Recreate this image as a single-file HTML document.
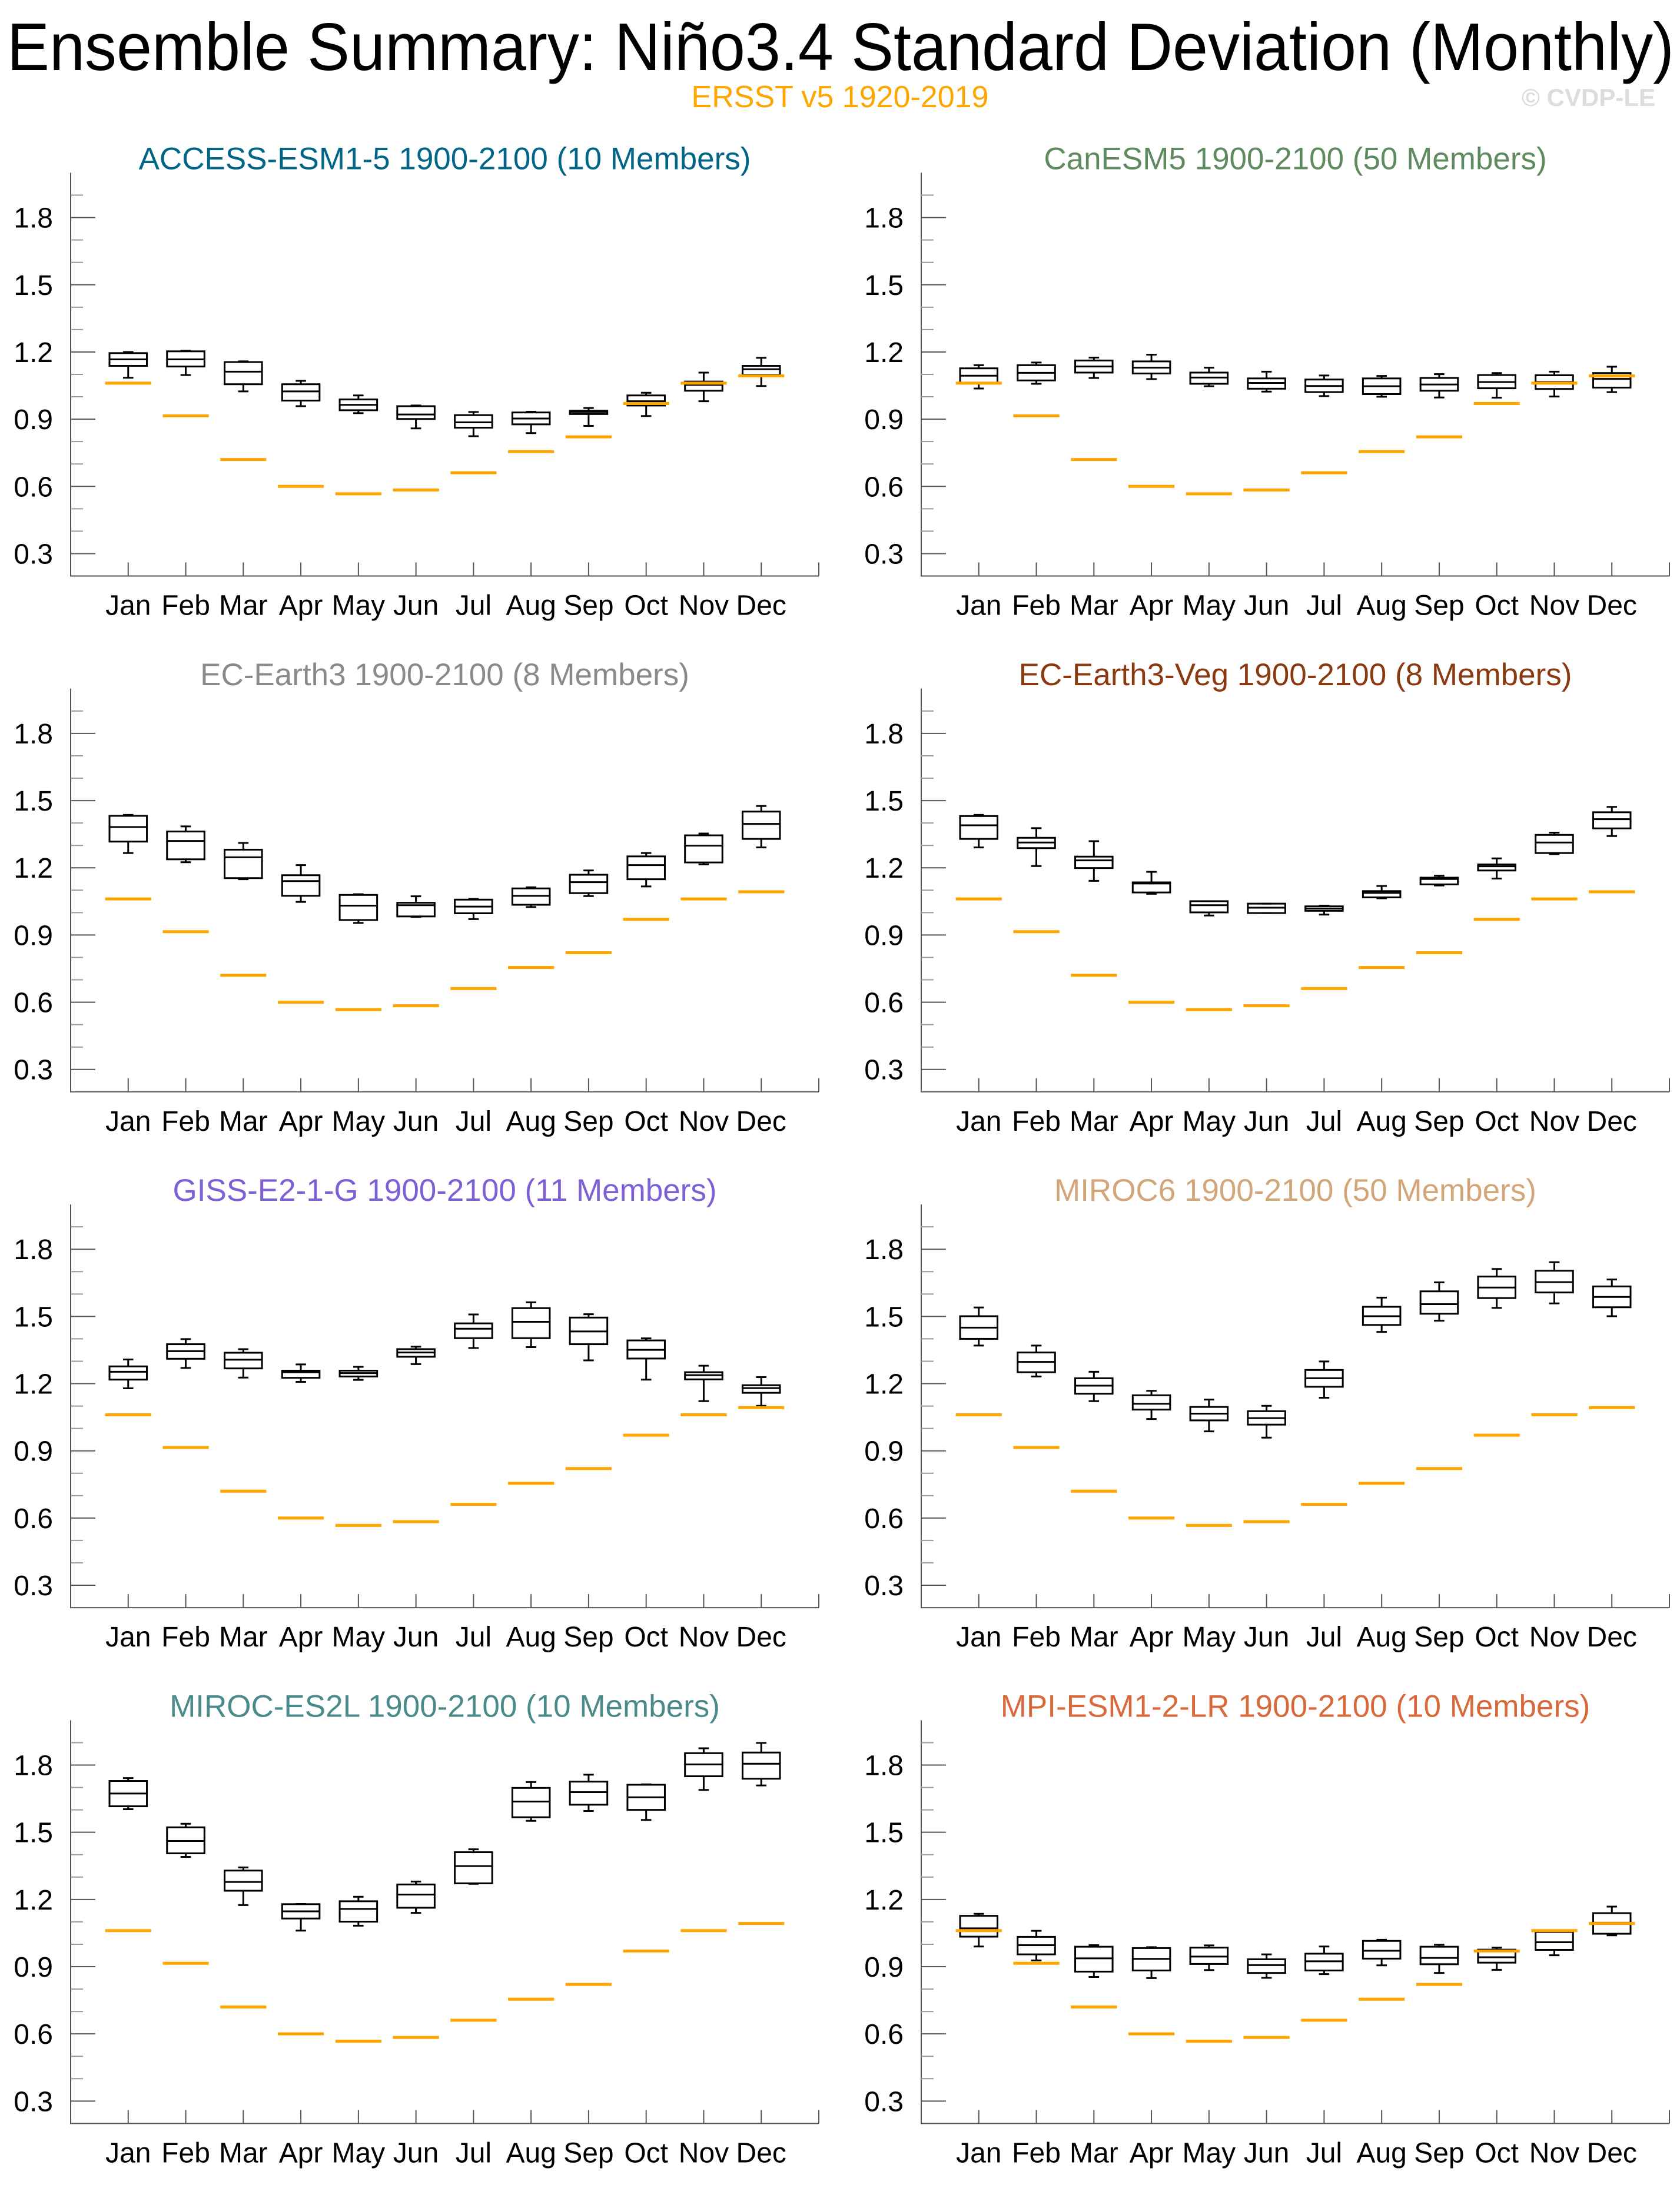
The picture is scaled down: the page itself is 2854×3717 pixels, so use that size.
<!DOCTYPE html>
<html><head><meta charset="utf-8"><style>
html,body{margin:0;padding:0;background:#fff;}
svg{display:block;font-family:"Liberation Sans",Arial,sans-serif;}
</style></head><body>
<svg id="fig" width="2854" height="3717" viewBox="0 0 2854 3717" xmlns="http://www.w3.org/2000/svg">
<text x="12" y="119" font-size="114" textLength="2832" lengthAdjust="spacingAndGlyphs" fill="#000">Ensemble Summary: Niño3.4 Standard Deviation (Monthly)</text>
<text x="1427" y="182" font-size="52" text-anchor="middle" fill="#FFA500">ERSST v5 1920-2019</text>
<text x="2812" y="180" font-size="42" font-weight="bold" text-anchor="end" fill="#dcdcdc">© CVDP-LE</text>
<g id="panels"></g>
</svg>
<script>
const months = ["Jan","Feb","Mar","Apr","May","Jun","Jul","Aug","Sep","Oct","Nov","Dec"];
const yTickValues = [0.3,0.6,0.9,1.2,1.5,1.8];
const yTickLabels = ["0.3","0.6","0.9","1.2","1.5","1.8"];
const obsValues = [1.061,0.915,0.720,0.600,0.567,0.584,0.661,0.755,0.821,0.970,1.061,1.093];

const accessMax = [1.200,1.205,1.158,1.071,1.006,0.961,0.932,0.933,0.950,1.018,1.108,1.174];
const accessQ3  = [1.195,1.203,1.155,1.056,0.988,0.958,0.918,0.930,0.938,1.006,1.068,1.138];
const accessMed = [1.167,1.167,1.112,1.024,0.964,0.921,0.886,0.903,0.932,0.980,1.053,1.123];
const accessQ1  = [1.138,1.135,1.056,0.983,0.940,0.901,0.862,0.877,0.923,0.961,1.027,1.098];
const accessMin = [1.085,1.097,1.024,0.958,0.927,0.859,0.824,0.838,0.870,0.914,0.980,1.048];

const canMax = [1.141,1.153,1.175,1.188,1.130,1.112,1.095,1.093,1.101,1.106,1.112,1.134];
const canQ3  = [1.127,1.141,1.162,1.158,1.108,1.082,1.077,1.082,1.084,1.097,1.096,1.106];
const canMed = [1.094,1.107,1.135,1.130,1.086,1.062,1.048,1.047,1.055,1.066,1.066,1.080];
const canQ1  = [1.062,1.073,1.108,1.104,1.058,1.036,1.021,1.012,1.027,1.038,1.035,1.041];
const canMin = [1.037,1.058,1.084,1.079,1.047,1.023,1.003,1.000,0.997,0.996,1.001,1.021];

const ecMax = [1.436,1.385,1.311,1.212,1.082,1.073,1.061,1.113,1.188,1.266,1.353,1.476];
const ecQ3  = [1.432,1.362,1.281,1.167,1.079,1.044,1.058,1.108,1.169,1.251,1.345,1.451];
const ecMed = [1.382,1.320,1.247,1.141,1.031,1.033,1.027,1.075,1.136,1.212,1.299,1.396];
const ecQ1  = [1.317,1.238,1.154,1.075,0.967,0.983,0.997,1.035,1.087,1.149,1.224,1.329];
const ecMin = [1.266,1.225,1.149,1.048,0.954,0.981,0.971,1.025,1.074,1.117,1.215,1.291];

const vegMax = [1.436,1.377,1.319,1.182,1.051,1.040,1.031,1.119,1.165,1.242,1.357,1.472];
const vegQ3  = [1.431,1.334,1.250,1.135,1.051,1.040,1.028,1.096,1.156,1.215,1.347,1.448];
const vegMed = [1.390,1.313,1.233,1.130,1.033,1.022,1.018,1.088,1.150,1.207,1.313,1.417];
const vegQ1  = [1.329,1.288,1.199,1.090,1.001,0.998,1.008,1.068,1.126,1.188,1.266,1.376];
const vegMin = [1.291,1.208,1.142,1.084,0.987,0.998,0.991,1.064,1.121,1.152,1.261,1.342];

const gissMax = [1.308,1.399,1.354,1.286,1.275,1.365,1.509,1.563,1.510,1.402,1.280,1.229];
const gissQ3  = [1.277,1.376,1.338,1.258,1.258,1.354,1.469,1.537,1.495,1.393,1.251,1.193];
const gissMed = [1.253,1.345,1.307,1.251,1.247,1.339,1.445,1.476,1.433,1.351,1.238,1.180];
const gissQ1  = [1.218,1.311,1.268,1.226,1.232,1.320,1.403,1.403,1.376,1.312,1.219,1.159];
const gissMin = [1.179,1.270,1.227,1.208,1.217,1.287,1.359,1.363,1.304,1.218,1.122,1.101];

const miroc6Max = [1.540,1.370,1.253,1.168,1.129,1.101,1.299,1.584,1.652,1.712,1.742,1.665];
const miroc6Q3  = [1.501,1.339,1.224,1.148,1.096,1.077,1.261,1.543,1.612,1.678,1.704,1.634];
const miroc6Med = [1.450,1.297,1.191,1.110,1.066,1.046,1.224,1.501,1.555,1.629,1.653,1.587];
const miroc6Q1  = [1.400,1.251,1.155,1.084,1.036,1.017,1.186,1.462,1.512,1.582,1.607,1.541];
const miroc6Min = [1.370,1.232,1.122,1.042,0.987,0.959,1.137,1.431,1.481,1.538,1.558,1.501];

const es2lMax = [1.742,1.538,1.343,1.180,1.212,1.280,1.424,1.724,1.757,1.714,1.875,1.899];
const es2lQ3  = [1.729,1.522,1.329,1.179,1.192,1.267,1.411,1.698,1.726,1.712,1.853,1.856];
const es2lMed = [1.673,1.461,1.278,1.147,1.158,1.222,1.349,1.637,1.679,1.656,1.803,1.806];
const es2lQ1  = [1.616,1.406,1.239,1.115,1.101,1.163,1.272,1.567,1.623,1.600,1.750,1.739];
const es2lMin = [1.603,1.390,1.175,1.061,1.083,1.140,1.270,1.551,1.595,1.555,1.689,1.709];

const mpiMax = [1.136,1.060,0.996,0.987,0.995,0.955,0.990,1.020,0.998,0.985,1.061,1.168];
const mpiQ3  = [1.127,1.033,0.989,0.983,0.985,0.933,0.958,1.015,0.989,0.976,1.055,1.139];
const mpiMed = [1.071,0.996,0.937,0.935,0.945,0.907,0.924,0.971,0.939,0.942,1.009,1.096];
const mpiQ1  = [1.034,0.955,0.878,0.883,0.912,0.872,0.883,0.936,0.911,0.918,0.975,1.047];
const mpiMin = [0.990,0.928,0.854,0.849,0.885,0.850,0.867,0.906,0.872,0.886,0.951,1.040];

const titles = ["ACCESS-ESM1-5 1900-2100 (10 Members)","CanESM5 1900-2100 (50 Members)","EC-Earth3 1900-2100 (8 Members)","EC-Earth3-Veg 1900-2100 (8 Members)","GISS-E2-1-G 1900-2100 (11 Members)","MIROC6 1900-2100 (50 Members)","MIROC-ES2L 1900-2100 (10 Members)","MPI-ESM1-2-LR 1900-2100 (10 Members)"];
const titleColors = ["#006587","#5f8a5f","#8a8a8a","#8b3a0f","#7d5fd6","#d2a679","#4a8a8a","#d9693a"];
const slugs = ["access-esm1-5","canesm5","ec-earth3","ec-earth3-veg","giss-e2-1-g","miroc6","miroc-es2l","mpi-esm1-2-lr"];
const panelStats = [
 [accessMin,accessQ1,accessMed,accessQ3,accessMax],
 [canMin,canQ1,canMed,canQ3,canMax],
 [ecMin,ecQ1,ecMed,ecQ3,ecMax],
 [vegMin,vegQ1,vegMed,vegQ3,vegMax],
 [gissMin,gissQ1,gissMed,gissQ3,gissMax],
 [miroc6Min,miroc6Q1,miroc6Med,miroc6Q3,miroc6Max],
 [es2lMin,es2lQ1,es2lMed,es2lQ3,es2lMax],
 [mpiMin,mpiQ1,mpiMed,mpiQ3,mpiMax]
];

const NS = "http://www.w3.org/2000/svg";
const root = document.getElementById("panels");
function mk(tag, attrs, parent){const e=document.createElementNS(NS,tag);for(const k in attrs)e.setAttribute(k,attrs[k]);parent.appendChild(e);return e;}

const PW = 1271, PH = 685, Y0 = 0.2, Y1 = 2.0, X0 = 0, X1 = 13;
for (let p = 0; p < 8; p++) {
  const col = p % 2, row = Math.floor(p / 2);
  const L = col === 0 ? 120 : 1565;
  const T = 293.5 + 876.3 * row;
  const xs = v => L + (v - X0) / (X1 - X0) * PW;
  const ys = v => T + (Y1 - v) / (Y1 - Y0) * PH;
  const g = mk("g", {}, root);
  
  

  const t = mk("text", {x: L + PW/2, y: T - 6, "font-size": 53, "text-anchor": "middle", fill: titleColors[p]}, g);
  t.textContent = titles[p];
  
  

  const ax = mk("path", {d: `M${L},${T}V${T+PH}H${L+PW}`, stroke: "#555", "stroke-width": 2, fill: "none"}, g);
  
  
  for (let v = 3; v <= 19; v++) {
    const val = v / 10, y = ys(val);
    const major = (v % 3 === 0);
    const tk = mk("line", {x1: L, x2: L + (major ? 42 : 21), y1: y, y2: y, stroke: major ? "#555" : "#999", "stroke-width": 2}, g);
    
    
  }
  yTickValues.forEach((v, i) => {
    const lb = mk("text", {x: L - 30, y: ys(v) + 17, "font-size": 48, "text-anchor": "end", fill: "#000"}, g);
    lb.textContent = yTickLabels[i];
    
    
  });
  for (let m = 1; m <= 13; m++) {
    const xt = mk("line", {x1: xs(m), x2: xs(m), y1: T + PH, y2: T + PH - 23, stroke: "#555", "stroke-width": 2}, g);
    
    
  }
  months.forEach((m, i) => {
    const lb = mk("text", {x: xs(i + 1), y: T + PH + 66, "font-size": 48, "text-anchor": "middle", fill: "#000"}, g);
    lb.textContent = m;
    
    
  });
  const [mn, q1, md, q3, mx] = panelStats[p];
  const bw = 0.65, cw = 0.18;
  for (let i = 0; i < 12; i++) {
    const cx = xs(i + 1);
    const hb = bw / 2 * PW / 13, hc = cw / 2 * PW / 13;
    const bg = mk("g", {stroke: "#000", "stroke-width": 3, fill: "none"}, g);
    
    
    mk("line", {x1: cx, x2: cx, y1: ys(mx[i]), y2: ys(q3[i])}, bg);
    mk("line", {x1: cx, x2: cx, y1: ys(q1[i]), y2: ys(mn[i])}, bg);
    mk("line", {x1: cx - hc, x2: cx + hc, y1: ys(mx[i]), y2: ys(mx[i])}, bg);
    mk("line", {x1: cx - hc, x2: cx + hc, y1: ys(mn[i]), y2: ys(mn[i])}, bg);
    mk("rect", {x: cx - hb, y: ys(q3[i]), width: 2 * hb, height: ys(q1[i]) - ys(q3[i])}, bg);
    mk("line", {x1: cx - hb, x2: cx + hb, y1: ys(md[i]), y2: ys(md[i])}, bg);
  }
  obsValues.forEach((v, i) => {
    const hw = 0.4 * PW / 13;
    const ob = mk("line", {x1: xs(i + 1) - hw, x2: xs(i + 1) + hw, y1: ys(v), y2: ys(v), stroke: "#FFA500", "stroke-width": 5}, g);
    
    
  });
}
</script>
</body></html>
